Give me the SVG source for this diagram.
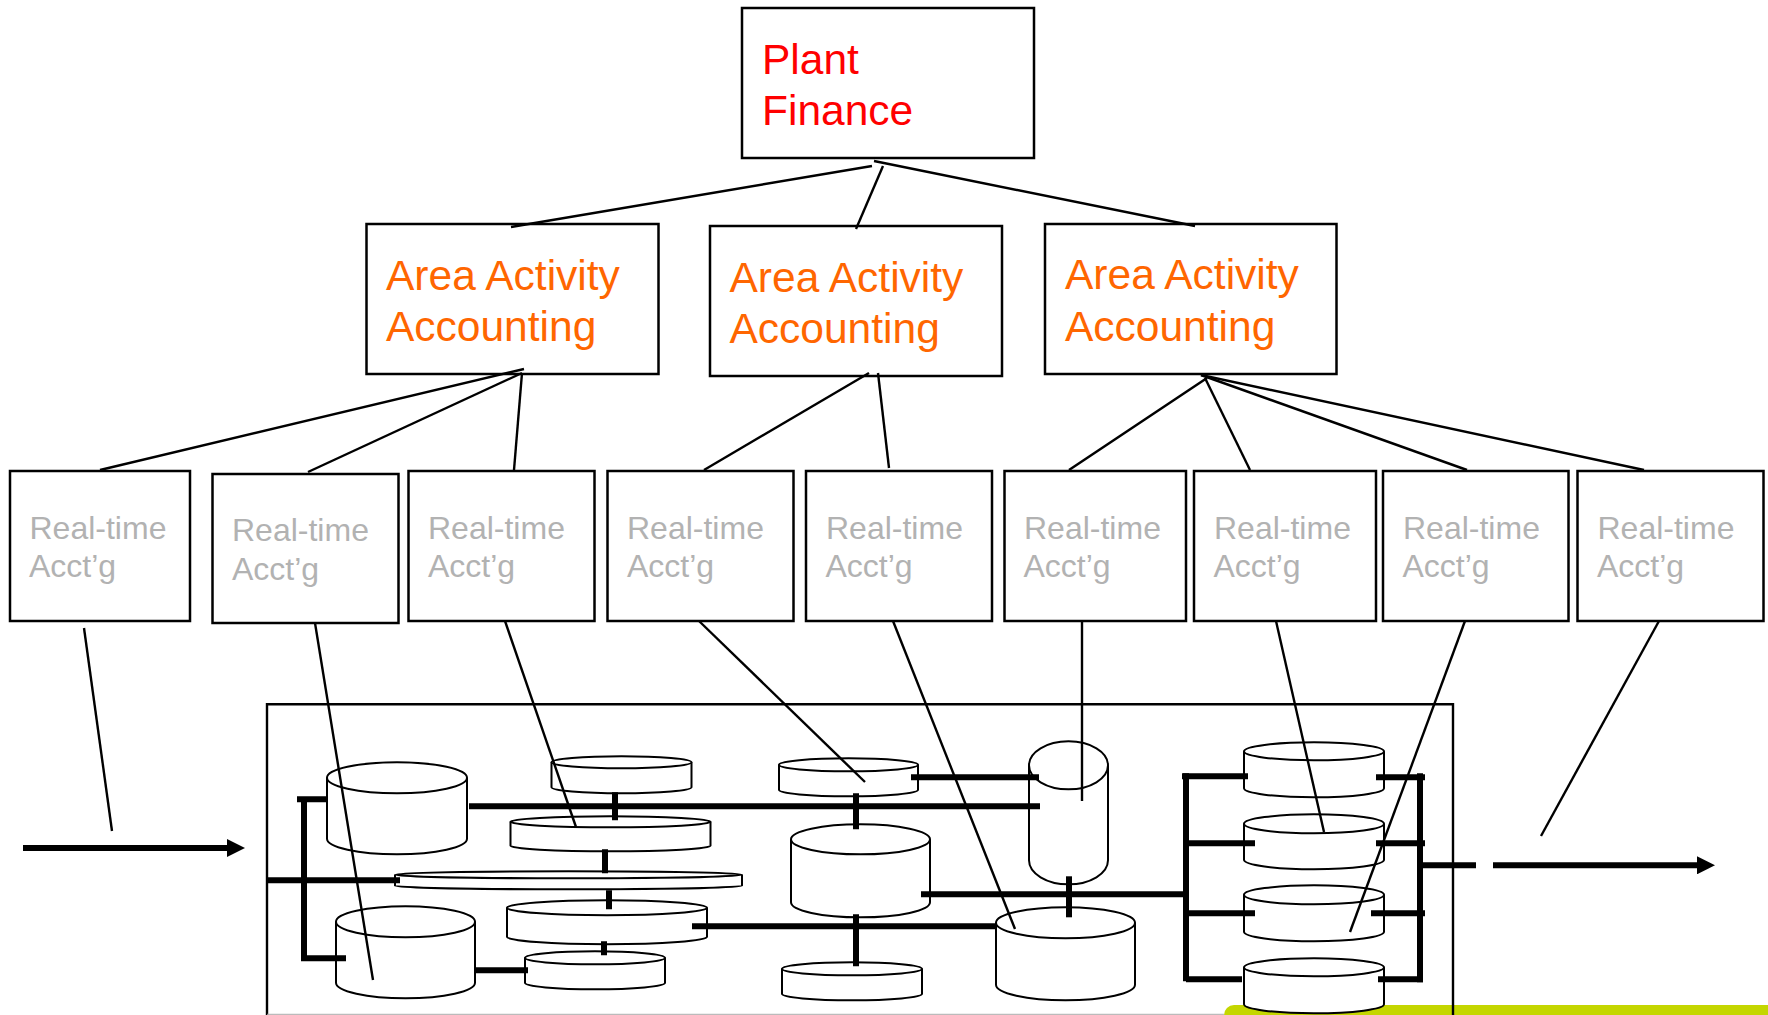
<svg xmlns="http://www.w3.org/2000/svg" width="1768" height="1015" viewBox="0 0 1768 1015">
<style>
text{font-family:"Liberation Sans",Arial,sans-serif}
.box{fill:#fff;stroke:#000;stroke-width:2.5}
.rt{fill:#fff;stroke:#000;stroke-width:2.5}
.t1{font-size:42.500px;fill:#ff0000}
.t2{font-size:42.500px;fill:#ff6600}
.t3{font-size:32px;fill:#b2b2b2}
.cyl{fill:#fff;stroke:#000;stroke-width:2}
.thin{fill:none;stroke:#000;stroke-width:2.400}
.thick{fill:none;stroke:#000;stroke-width:6}
</style>
<defs>
<marker id="arrow" markerUnits="userSpaceOnUse" markerWidth="18" markerHeight="18" refX="0" refY="9" orient="auto"><polygon points="0,0 18,9 0,18" fill="#000"/></marker>
</defs>
<rect width="1768" height="1015" fill="#fff"/>
<g id="footer-band">
<rect x="1224" y="1005" width="560" height="30" rx="10" fill="#c4d600"/>
</g>
<g id="process-frame" transform="translate(0,-0.7)">
<path d="M267 1016V705H1453V1016" class="thin"/>
<path d="M267 1015H1224" stroke="#aaa" stroke-width="1" fill="none"/>
</g>
<g id="plant-finance"><rect class="box" x="742" y="8" width="292" height="150"/><text class="t1" x="762" y="74">Plant</text><text class="t1" x="762" y="125">Finance</text></g>
<g id="area-1"><rect class="box" x="366.500" y="224" width="292" height="150"/><text class="t2" x="386" y="290">Area Activity</text><text class="t2" x="386" y="341">Accounting</text></g>
<g id="area-2"><rect class="box" x="710" y="226" width="292" height="150"/><text class="t2" x="729.500" y="292">Area Activity</text><text class="t2" x="729.500" y="343">Accounting</text></g>
<g id="area-3"><rect class="box" x="1045" y="224" width="291.500" height="150"/><text class="t2" x="1065" y="289">Area Activity</text><text class="t2" x="1065" y="341">Accounting</text></g>
<g id="rt-1"><rect class="rt" x="10" y="471" width="180" height="150"/><text class="t3" x="29.500" y="538.500">Real-time</text><text class="t3" x="29" y="577">Acct’g</text></g>
<g id="rt-2"><rect class="rt" x="212.500" y="474" width="186" height="149"/><text class="t3" x="232" y="541">Real-time</text><text class="t3" x="232" y="579.500">Acct’g</text></g>
<g id="rt-3"><rect class="rt" x="408.500" y="471" width="186" height="150"/><text class="t3" x="428" y="538.500">Real-time</text><text class="t3" x="428" y="577">Acct’g</text></g>
<g id="rt-4"><rect class="rt" x="607.500" y="471" width="186" height="150"/><text class="t3" x="627" y="538.500">Real-time</text><text class="t3" x="627" y="577">Acct’g</text></g>
<g id="rt-5"><rect class="rt" x="806" y="471" width="186" height="150"/><text class="t3" x="826" y="538.500">Real-time</text><text class="t3" x="825.500" y="577">Acct’g</text></g>
<g id="rt-6"><rect class="rt" x="1004.500" y="471" width="181.500" height="150"/><text class="t3" x="1024" y="538.500">Real-time</text><text class="t3" x="1023.500" y="577">Acct’g</text></g>
<g id="rt-7"><rect class="rt" x="1194" y="471" width="182" height="150"/><text class="t3" x="1214" y="538.500">Real-time</text><text class="t3" x="1213.500" y="577">Acct’g</text></g>
<g id="rt-8"><rect class="rt" x="1383" y="471" width="185.500" height="150"/><text class="t3" x="1403" y="538.500">Real-time</text><text class="t3" x="1402.500" y="577">Acct’g</text></g>
<g id="rt-9"><rect class="rt" x="1577.500" y="471" width="186" height="150"/><text class="t3" x="1597.500" y="538.500">Real-time</text><text class="t3" x="1597" y="577">Acct’g</text></g>
<g id="cylinders" transform="translate(0,-0.7)">
<g id="cyl-1"><path class="cyl" d="M327 778.500V839.500A70 15.500 0 0 0 467 839.500V778.500"/><ellipse class="cyl" cx="397" cy="778.500" rx="70" ry="15.500"/></g>
<g id="cyl-2"><path class="cyl" d="M551.500 763V788A70 6 0 0 0 691.500 788V763"/><ellipse class="cyl" cx="621.500" cy="763" rx="70" ry="6"/></g>
<g id="cyl-3"><path class="cyl" d="M510.500 822.500V846.500A100 5.500 0 0 0 710.500 846.500V822.500"/><ellipse class="cyl" cx="610.500" cy="822.500" rx="100" ry="5.500"/></g>
<g id="cyl-4"><path class="cyl" d="M395 875.500V886.500A173.500 3.500 0 0 0 742 886.500V875.500"/><ellipse class="cyl" cx="568.500" cy="875.500" rx="173.500" ry="3.500"/></g>
<g id="cyl-5"><path class="cyl" d="M507 908.500V937.500A100 7.500 0 0 0 707 937.500V908.500"/><ellipse class="cyl" cx="607" cy="908.500" rx="100" ry="7.500"/></g>
<g id="cyl-6"><path class="cyl" d="M336 922.500V983.500A69.500 15.500 0 0 0 475 983.500V922.500"/><ellipse class="cyl" cx="405.500" cy="922.500" rx="69.500" ry="15.500"/></g>
<g id="cyl-7"><path class="cyl" d="M525 958.500V983.500A70 6.500 0 0 0 665 983.500V958.500"/><ellipse class="cyl" cx="595" cy="958.500" rx="70" ry="6.500"/></g>
<g id="cyl-8"><path class="cyl" d="M779 765.500V790.500A69.500 6.500 0 0 0 918 790.500V765.500"/><ellipse class="cyl" cx="848.500" cy="765.500" rx="69.500" ry="6.500"/></g>
<g id="cyl-9"><path class="cyl" d="M791 840V903A69.500 15 0 0 0 930 903V840"/><ellipse class="cyl" cx="860.500" cy="840" rx="69.500" ry="15"/></g>
<g id="cyl-10"><path class="cyl" d="M1029 766V861A39.500 24 0 0 0 1108 861V766"/><ellipse class="cyl" cx="1068.500" cy="766" rx="39.500" ry="24"/></g>
<g id="cyl-11"><path class="cyl" d="M996 923.500V985.500A69.500 15.500 0 0 0 1135 985.500V923.500"/><ellipse class="cyl" cx="1065.500" cy="923.500" rx="69.500" ry="15.500"/></g>
<g id="cyl-12"><path class="cyl" d="M782 969.500V994.500A70 6.500 0 0 0 922 994.500V969.500"/><ellipse class="cyl" cx="852" cy="969.500" rx="70" ry="6.500"/></g>
<g id="cyl-13"><path class="cyl" d="M1244 752V789A70 9 0 0 0 1384 789V752"/><ellipse class="cyl" cx="1314" cy="752" rx="70" ry="9"/></g>
<g id="cyl-14"><path class="cyl" d="M1244 824.500V860.500A70 9.500 0 0 0 1384 860.500V824.500"/><ellipse class="cyl" cx="1314" cy="824.500" rx="70" ry="9.500"/></g>
<g id="cyl-15"><path class="cyl" d="M1244 895.500V932.500A70 9.500 0 0 0 1384 932.500V895.500"/><ellipse class="cyl" cx="1314" cy="895.500" rx="70" ry="9.500"/></g>
<g id="cyl-16"><path class="cyl" d="M1244 968V1005A70 9 0 0 0 1384 1005V968"/><ellipse class="cyl" cx="1314" cy="968" rx="70" ry="9"/></g>
</g>
<g id="connectors">
<g class="thin">
<path d="M872 166L511 227"/><path d="M883 166L856 229"/><path d="M874 161L1195 226"/>
<path d="M524 369L100 470"/><path d="M522 373L308 472"/><path d="M522 373L514 470"/>
<path d="M869 373L704 470"/><path d="M878 373L889 468"/>
<path d="M1207 378L1069 470"/><path d="M1205 378L1250 470"/><path d="M1201 375L1467 470"/><path d="M1201 375L1644 470"/>
<path d="M84 628L112 831"/><path d="M315 623L373 980"/><path d="M505 621L576 827"/><path d="M699 621L865 782"/><path d="M893 621L1015 929"/><path d="M1082 621V801"/><path d="M1276 621L1324 832"/><path d="M1465 621L1350 932"/><path d="M1659 621L1541 836"/>
</g>
<g class="thick" transform="translate(0,-0.7)">
<path d="M23 848.700H227" marker-end="url(#arrow)"/>
<path d="M297 800H327M304 797V962M301 959H346"/>
<path d="M267 881H400"/>
<path d="M469 807H1040"/>
<path d="M615 793V821M605 850V874M609 891V910M604 942V956"/>
<path d="M474 971H528"/>
<path d="M692 927H996"/>
<path d="M911 778H1039"/>
<path d="M856 794V830M856 915V967"/>
<path d="M921 895H1186"/>
<path d="M1069 877V918"/>
<path d="M1186 774V982"/>
<path d="M1182 777H1248M1186 844H1255M1186 914H1255M1186 980H1242"/>
<path d="M1376 778H1425M1376 844H1425M1371 914H1425M1378 980H1423"/>
<path d="M1420 774V983"/>
<path d="M1420 866H1476"/>
<path d="M1493 866H1697" marker-end="url(#arrow)"/>
</g>
</g>
</svg>
